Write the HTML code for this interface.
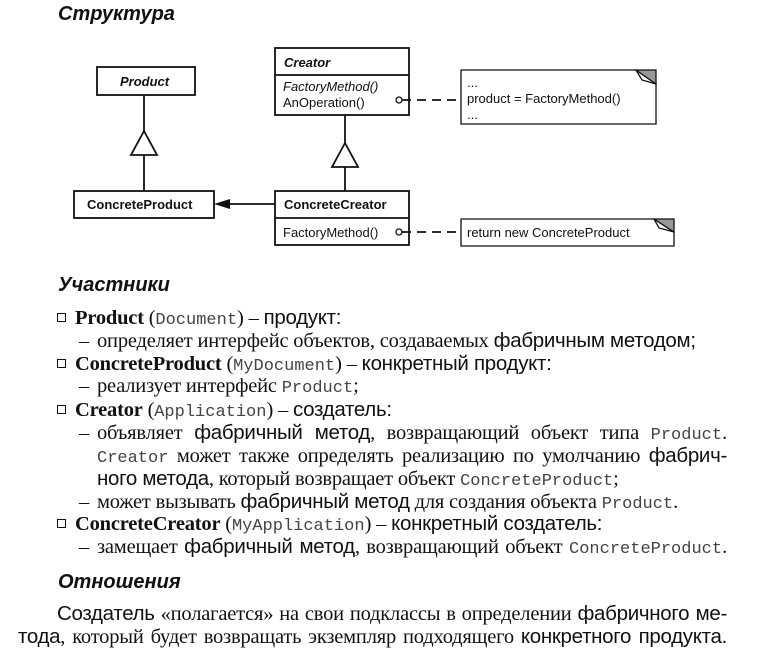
<!DOCTYPE html>
<html><head><meta charset="utf-8"><style>
body{margin:0;width:776px;height:660px;background:#fff;position:relative;overflow:hidden;color:#111}
.h{position:absolute;font-family:"Liberation Sans Narrow","Liberation Sans",sans-serif;font-style:italic;font-weight:bold;font-size:20px;}
.l{position:absolute;font-family:"Liberation Serif","DejaVu Serif",serif;font-size:20.5px;line-height:23px;height:23px;white-space:nowrap;right:49px;letter-spacing:-0.2px}
.j{text-align:justify;text-align-last:justify}
.s{font-family:"Liberation Sans Narrow","Liberation Sans",sans-serif;font-size:20.5px;letter-spacing:-0.3px}
.m{font-family:"Liberation Mono",monospace;font-size:17px;color:#444;letter-spacing:0}
b{font-family:"Liberation Serif",serif;font-size:20.5px}
.d{display:inline-block;width:18px}
.bx{display:inline-block;width:7px;height:7px;border:1.3px solid #111;margin-right:9px;vertical-align:2px}
</style></head><body>
<div class="h" style="left:58px;top:3px">Структура</div>
<svg style="position:absolute;left:0;top:0" width="776" height="260" font-family="Liberation Sans,sans-serif" font-size="13">
<g fill="#fff" stroke="#111" stroke-width="1.8">
<rect x="97" y="67" width="98" height="28"/>
<rect x="275" y="48" width="134" height="67"/>
<line x1="275" y1="75" x2="409" y2="75"/>
<rect x="74" y="191" width="140" height="27"/>
<rect x="275" y="191" width="134" height="54"/>
<line x1="275" y1="218" x2="409" y2="218"/>
<line x1="144" y1="95" x2="144" y2="131"/>
<line x1="144" y1="155" x2="144" y2="191"/>
<polygon points="144,131 131,155 157,155"/>
<line x1="345" y1="115" x2="345" y2="143"/>
<line x1="345" y1="167" x2="345" y2="191"/>
<polygon points="345,143 332,167 358,167"/>
<line x1="228" y1="204" x2="275" y2="204"/>
</g>
<polygon points="214,204 230,199 230,209" fill="#111"/>
<g stroke="#111" stroke-width="1.3" fill="#fff">
<path d="M461 70 H636 L656 84 V124 H461 Z"/>
<path d="M636 70 L656 70 L656 84 Z" fill="#999"/>
<path d="M636 70 L642 80 L656 84" fill="none"/>
<path d="M461 219 H654 L674 232 V246 H461 Z"/>
<path d="M654 219 L674 219 L674 232 Z" fill="#999"/>
<path d="M654 219 L659 228 L674 232" fill="none"/>
<circle cx="399" cy="100" r="3"/>
<circle cx="399" cy="232" r="3"/>
</g>
<g stroke="#111" stroke-width="1.8" stroke-dasharray="9,6">
<line x1="402" y1="100" x2="461" y2="100"/>
<line x1="402" y1="232" x2="461" y2="232"/>
</g>
<g fill="#111">
<text x="120" y="86" font-weight="bold" font-style="italic">Product</text>
<text x="284" y="67" font-weight="bold" font-style="italic">Creator</text>
<text x="283" y="91" font-style="italic">FactoryMethod()</text>
<text x="283" y="107">AnOperation()</text>
<text x="87" y="209" font-weight="bold">ConcreteProduct</text>
<text x="284" y="209" font-weight="bold">ConcreteCreator</text>
<text x="283" y="237">FactoryMethod()</text>
<text x="467" y="87">...</text>
<text x="467" y="103">product = FactoryMethod()</text>
<text x="467" y="119">...</text>
<text x="467" y="237">return new ConcreteProduct</text>
</g>
</svg>
<div class="h" style="left:58px;top:274px">Участники</div>
<div class="l" style="left:57px;top:306px"><span class="bx"></span><b>Product</b> (<span class="m">Document</span>) – <span class="s">продукт:</span></div>
<div class="l" style="left:79px;top:329px"><span class="d">–</span>определяет интерфейс объектов, создаваемых <span class="s">фабричным методом;</span></div>
<div class="l" style="left:57px;top:352px"><span class="bx"></span><b>ConcreteProduct</b> (<span class="m">MyDocument</span>) – <span class="s">конкретный продукт:</span></div>
<div class="l" style="left:79px;top:375px"><span class="d">–</span>реализует интерфейс <span class="m">Product</span>;</div>
<div class="l" style="left:57px;top:398px"><span class="bx"></span><b>Creator</b> (<span class="m">Application</span>) – <span class="s">создатель:</span></div>
<div class="l j" style="left:79px;top:421px"><span class="d">–</span>объявляет <span class="s">фабричный метод</span>, возвращающий объект типа <span class="m">Product</span>.</div>
<div class="l j" style="left:97px;top:444px"><span class="m">Creator</span> может также определять реализацию по умолчанию <span class="s">фабрич-</span></div>
<div class="l" style="left:97px;top:467px"><span class="s">ного метода</span>, который возвращает объект <span class="m">ConcreteProduct</span>;</div>
<div class="l" style="left:79px;top:490px"><span class="d">–</span>может вызывать <span class="s">фабричный метод</span> для создания объекта <span class="m">Product</span>.</div>
<div class="l" style="left:57px;top:512px"><span class="bx"></span><b>ConcreteCreator</b> (<span class="m">MyApplication</span>) – <span class="s">конкретный создатель:</span></div>
<div class="l j" style="left:79px;top:535px"><span class="d">–</span>замещает <span class="s">фабричный метод</span>, возвращающий объект <span class="m">ConcreteProduct</span>.</div>
<div class="h" style="left:58px;top:571px">Отношения</div>
<div class="l j" style="left:57px;top:602px"><span class="s">Создатель</span> «полагается» на свои подклассы в определении <span class="s">фабричного ме-</span></div>
<div class="l j" style="left:18px;top:625px"><span class="s">тода</span>, который будет возвращать экземпляр подходящего <span class="s">конкретного продукта.</span></div>
</body></html>
